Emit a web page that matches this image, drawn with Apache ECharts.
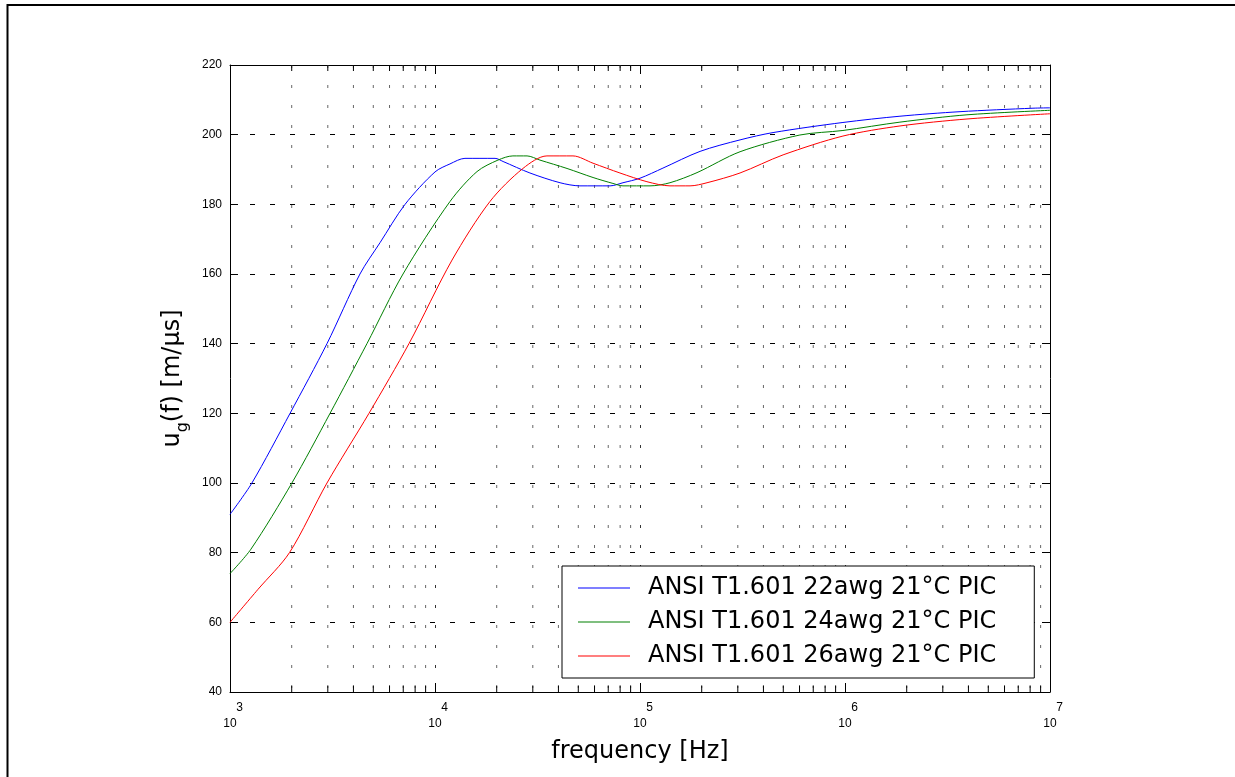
<!DOCTYPE html>
<html>
<head>
<meta charset="utf-8">
<script src="https://cdn.jsdelivr.net/npm/echarts@6/dist/echarts.min.js"></script>
<style>
html,body{margin:0;padding:0;background:#fff;}
#chart{width:1235px;height:777px;}
</style>
</head>
<body>
<div id="chart"></div>
<script>
// ---- Data (frequency in Hz, group velocity in m/us) ----
const seriesNames = [
  'ANSI T1.601 22awg 21°C PIC',
  'ANSI T1.601 24awg 21°C PIC',
  'ANSI T1.601 26awg 21°C PIC'
];
const freq22 = [1000, 1279, 1963, 2972, 4305, 5395, 7145, 10000, 11830, 14000, 19630, 21480, 29040, 40740, 50930, 71450, 82600, 100000, 129400, 196300, 307600, 445700, 977200, 1854000, 3639000, 8260000, 10000000];
const vel22  = [91, 100, 120, 140, 160, 169, 180, 189.3, 191.6, 193.2, 193.2, 192.3, 189, 186.2, 185.3, 185.3, 186.2, 187.5, 190.4, 195.2, 198.5, 200.6, 203.5, 205.3, 206.6, 207.6, 207.7];
const freq24 = [1000, 1265, 2004, 3076, 4656, 6982, 11830, 16030, 20280, 23990, 28120, 32510, 44060, 59020, 73790, 82600, 111900, 140000, 189700, 307600, 602600, 977200, 1854000, 3936000, 10000000];
const vel24  = [74, 81, 100, 120, 140, 160, 180.8, 189.4, 192.7, 193.9, 193.9, 192.7, 190.3, 187.7, 186, 185.3, 185.3, 186.2, 189.1, 195.1, 199.9, 201.2, 203.6, 205.7, 207];
const freq26 = [1000, 1371, 1950, 2972, 4764, 7464, 12110, 18530, 26850, 35160, 47100, 59020, 79800, 108100, 140000, 175400, 212300, 307600, 498900, 977200, 1854000, 3936000, 10000000];
const vel26  = [60, 69.5, 80, 100, 120, 140, 164, 180.8, 190.3, 193.9, 193.9, 191.8, 189, 186.5, 185.3, 185.3, 186.2, 189, 194.2, 199.6, 202.5, 204.5, 206];
const colors = ['#0000ff', '#008000', '#ff0000'];
const xMin = 1000, xMax = 10000000;
const yMin = 40, yMax = 220, yStep = 20;
const xAxisTitle = 'frequency [Hz]';

// minor log positions 2..9 per decade
const minorFreqs = [];
for (let d = xMin; d < xMax; d *= 10) {
  for (let k = 2; k <= 9; k++) minorFreqs.push([d * k, yMin]);
}

function zip(a, b) { return a.map((v, i) => [v, b[i]]); }

const chart = echarts.init(document.getElementById('chart'), null, {renderer: 'canvas'});
const FONT = 'Liberation Sans, Arial, sans-serif';

const option = {
  backgroundColor: '#fff',
  animation: false,
  grid: {left: 230, right: 185, top: 65, bottom: 85, containLabel: false},
  graphic: [
    {type: 'line', shape: {x1: 7, y1: 5, x2: 1235, y2: 5}, style: {stroke: '#000', lineWidth: 2}, silent: true},
    {type: 'line', shape: {x1: 7.5, y1: 4, x2: 7.5, y2: 777}, style: {stroke: '#000', lineWidth: 2}, silent: true}
  ],
  legend: {
    orient: 'vertical',
    left: 562, top: 566,
    padding: [10, 38, 10, 16],
    itemGap: 10,
    itemWidth: 52, itemHeight: 1,
    backgroundColor: '#fff',
    borderColor: '#000', borderWidth: 1,
    data: seriesNames.map(n => ({name: n, icon: 'rect'})),
    textStyle: {fontFamily: 'DejaVu Sans', fontSize: 24, color: '#000', lineHeight: 24, padding: [0, 0, 0, 13]}
  },
  xAxis: [{
    type: 'log', logBase: 10, min: xMin, max: xMax,
    position: 'bottom',
    axisLine: {show: true, lineStyle: {color: '#000', width: 1}},
    axisTick: {show: true, inside: true, length: 9, lineStyle: {color: '#000'}},
    splitLine: {show: true, lineStyle: {color: '#333', type: [3, 17], width: 1}},
    axisLabel: {
      color: '#000', margin: 8,
      formatter: function (v) { return '{e|' + Math.round(Math.log10(v)) + '}\n{b|10}'; },
      rich: {
        e: {fontFamily: FONT, fontSize: 12, color: '#000', padding: [0, 0, 0, 19], lineHeight: 16},
        b: {fontFamily: FONT, fontSize: 12, color: '#000', lineHeight: 16}
      }
    },
    name: xAxisTitle, nameLocation: 'middle', nameGap: 48,
    nameTextStyle: {fontFamily: 'DejaVu Sans', fontSize: 24, color: '#000'}
  }, {
    type: 'log', logBase: 10, min: xMin, max: xMax,
    position: 'top',
    axisLine: {show: true, lineStyle: {color: '#000', width: 1}},
    axisTick: {show: true, inside: true, length: 9, lineStyle: {color: '#000'}},
    splitLine: {show: false},
    axisLabel: {show: false}
  }],
  yAxis: [{
    type: 'value', min: yMin, max: yMax, interval: yStep,
    position: 'left',
    axisLine: {show: true, lineStyle: {color: '#000', width: 1}},
    axisTick: {show: true, inside: true, length: 8, lineStyle: {color: '#000'}},
    splitLine: {show: true, lineStyle: {color: '#000', type: [5, 15], width: 1}},
    axisLabel: {color: '#000', fontFamily: FONT, fontSize: 12, margin: 8},
    name: '{a|u}{s|g}{a|(f) [m/μs]}',
    nameLocation: 'middle', nameGap: 36, nameRotate: 90,
    nameTextStyle: {
      rich: {
        a: {fontFamily: 'DejaVu Sans', fontSize: 24, color: '#000', lineHeight: 36, verticalAlign: 'middle'},
        s: {fontFamily: 'DejaVu Sans', fontSize: 16, color: '#000', lineHeight: 36, verticalAlign: 'bottom'}
      }
    }
  }, {
    type: 'value', min: yMin, max: yMax, interval: yStep,
    position: 'right',
    axisLine: {show: true, lineStyle: {color: '#000', width: 1}},
    axisTick: {show: true, inside: true, length: 8, lineStyle: {color: '#000'}},
    splitLine: {show: false},
    axisLabel: {show: false}
  }],
  series: [
    {
      type: 'custom', name: 'minorGrid', silent: true, z: 1,
      xAxisIndex: 0, yAxisIndex: 0,
      data: minorFreqs,
      clip: false,
      renderItem: function (params, api) {
        const b = api.coord([api.value(0), yMin]);
        const t = api.coord([api.value(0), yMax]);
        return {
          type: 'group',
          children: [
            {type: 'line', shape: {x1: b[0], y1: t[1], x2: b[0], y2: b[1]}, style: {stroke: '#666', lineWidth: 1, lineDash: [3, 17]}},
            {type: 'line', shape: {x1: b[0], y1: b[1], x2: b[0], y2: b[1] - 6}, style: {stroke: '#000', lineWidth: 1}},
            {type: 'line', shape: {x1: t[0], y1: t[1], x2: t[0], y2: t[1] + 6}, style: {stroke: '#000', lineWidth: 1}}
          ]
        };
      }
    },
    {name: seriesNames[0], type: 'line', data: zip(freq22, vel22), symbol: 'none', smooth: 0.3, z: 3,
      lineStyle: {color: colors[0], width: 1}, itemStyle: {color: colors[0]}},
    {name: seriesNames[1], type: 'line', data: zip(freq24, vel24), symbol: 'none', smooth: 0.3, z: 3,
      lineStyle: {color: colors[1], width: 1}, itemStyle: {color: colors[1]}},
    {name: seriesNames[2], type: 'line', data: zip(freq26, vel26), symbol: 'none', smooth: 0.3, z: 3,
      lineStyle: {color: colors[2], width: 1}, itemStyle: {color: colors[2]}}
  ]
};
chart.setOption(option);
</script>
</body>
</html>
